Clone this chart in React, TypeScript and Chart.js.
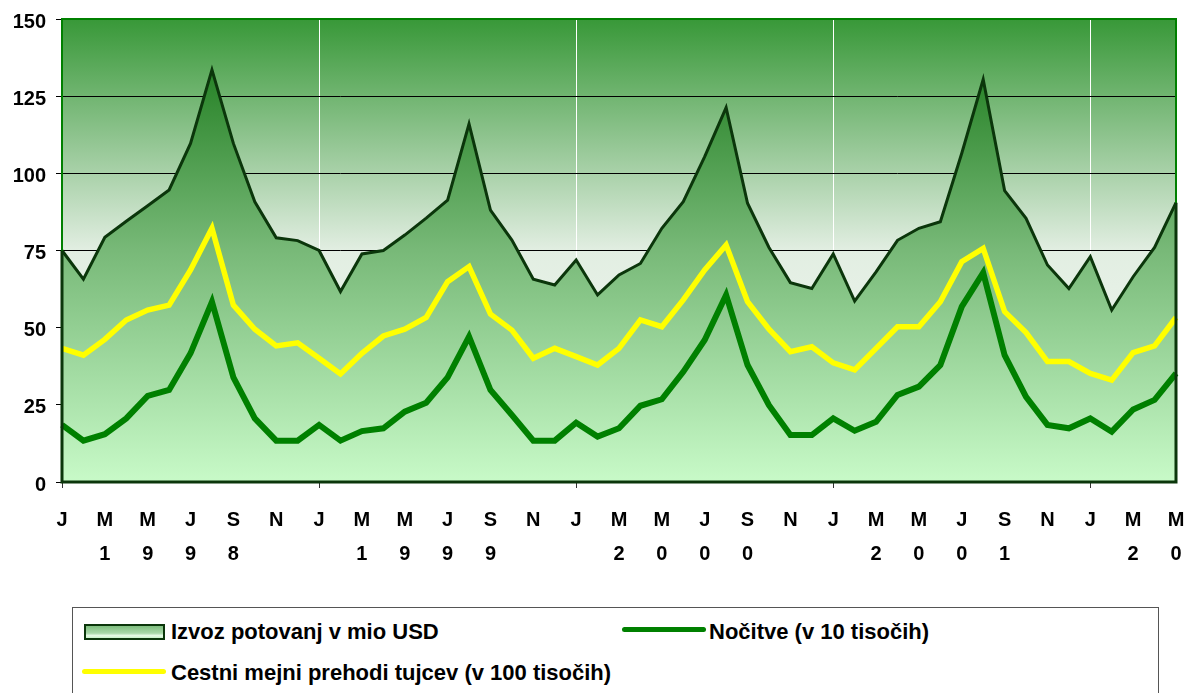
import React, { useEffect, useRef } from 'react';
import { Chart, registerables } from 'chart.js';

Chart.register(...registerables);

// Monthly categories, Jan 1998 – May 2002
const monthLabels = [
  'J', 'F', 'M', 'A', 'M', 'J', 'J', 'A', 'S', 'O', 'N', 'D',
  'J', 'F', 'M', 'A', 'M', 'J', 'J', 'A', 'S', 'O', 'N', 'D',
  'J', 'F', 'M', 'A', 'M', 'J', 'J', 'A', 'S', 'O', 'N', 'D',
  'J', 'F', 'M', 'A', 'M', 'J', 'J', 'A', 'S', 'O', 'N', 'D',
  'J', 'F', 'M', 'A', 'M',
];
const yearLabels = [
  '', '', '1', '', '9', '', '9', '', '8', '', '', '',
  '', '', '1', '', '9', '', '9', '', '9', '', '', '',
  '', '', '2', '', '0', '', '0', '', '0', '', '', '',
  '', '', '2', '', '0', '', '0', '', '1', '', '', '',
  '', '', '2', '', '0',
];

const izvoz = [
  75, 65.7, 79.3, 84.5, 89.5, 94.6, 109.7, 133.5, 109.7, 90.8, 79.1, 78.2,
  75, 61.7, 73.9, 75, 80, 85.5, 91.3, 116, 88.1, 78.4, 65.7, 63.8,
  71.9, 60.6, 67.1, 70.8, 82.2, 90.8, 105.4, 121.3, 90.3, 76, 64.6, 62.7,
  73.9, 58.6, 68.1, 78.3, 82.2, 84.3, 106.5, 130.4, 94.4, 85.4, 70.3, 62.7,
  73, 55.7, 66.5, 76, 90.5,
];
const nocitve = [
  18.5, 13.4, 15.5, 20.6, 27.9, 29.8, 41.7, 58.4, 33.9, 20.6, 13.4, 13.4,
  18.5, 13.4, 16.5, 17.4, 22.8, 25.7, 33.9, 47.1, 29.8, 21.7, 13.4, 13.4,
  19.2, 14.7, 17.4, 24.7, 26.8, 35.7, 46, 60.6, 37.9, 24.9, 15.2, 15.2,
  20.6, 16.6, 19.5, 28.2, 30.9, 37.9, 56.8, 67.8, 41.1, 27.6, 18.5, 17.4,
  20.6, 16.3, 23.5, 26.6, 35.2,
];
const cestni = [
  43.3, 41.1, 46.2, 52.5, 55.7, 57.3, 68.7, 82.2, 57.3, 49.5, 44.1, 45.1,
  40.1, 35, 41.7, 47.3, 49.5, 53.3, 64.9, 69.8, 54.4, 49.2, 40.1, 43.3,
  40.6, 37.9, 43.3, 52.5, 50.3, 59, 68.7, 76.8, 58.4, 49.5, 42.2, 43.8,
  38.6, 36.3, 43.3, 50.3, 50.3, 58.4, 71.4, 75.7, 55.2, 48.4, 39, 39,
  35.2, 33, 41.9, 44.1, 53.3,
];

const seriesNames = [
  'Izvoz potovanj v mio USD',
  'Nočitve (v 10 tisočih)',
  'Cestni mejni prehodi tujcev (v 100 tisočih)',
];

const FONT = "'Liberation Sans', Arial, Helvetica, sans-serif";
const AREA_BORDER = '#0b360b';

const plotDecor = {
  id: 'plotDecor',
  beforeDraw(chart: any) {
    const { ctx, chartArea: a } = chart;
    if (!a) return;
    const g = ctx.createLinearGradient(0, a.top, 0, a.bottom);
    g.addColorStop(0, '#389838');
    g.addColorStop(0.5, '#e2eee2');
    g.addColorStop(1, '#f6fbf6');
    ctx.save();
    ctx.fillStyle = g;
    ctx.fillRect(a.left, a.top, a.right - a.left, a.bottom - a.top);
    ctx.restore();
  },
  afterDatasetsDraw(chart: any) {
    const { ctx, chartArea: a } = chart;
    if (!a) return;
    ctx.save();
    ctx.strokeStyle = '#008000';
    ctx.lineWidth = 2;
    ctx.beginPath();
    ctx.moveTo(a.left, a.bottom);
    ctx.lineTo(a.left, a.top);
    ctx.lineTo(a.right, a.top);
    ctx.lineTo(a.right, a.bottom);
    ctx.stroke();
    const meta = chart.getDatasetMeta(0);
    const pts = meta.data;
    if (pts && pts.length) {
      const first = pts[0];
      const last = pts[pts.length - 1];
      const base = chart.scales.y.getPixelForValue(0);
      ctx.strokeStyle = AREA_BORDER;
      ctx.lineWidth = 3;
      ctx.lineJoin = 'miter';
      ctx.beginPath();
      ctx.moveTo(first.x, first.y);
      ctx.lineTo(first.x, base);
      ctx.lineTo(last.x, base);
      ctx.lineTo(last.x, last.y);
      ctx.stroke();
    }
    ctx.restore();
  },
};

function ChartCanvas() {
  const ref = useRef<HTMLCanvasElement | null>(null);
  useEffect(() => {
    if (!ref.current) return;
    const chart = new Chart(ref.current, {
      type: 'line',
      data: {
        labels: monthLabels,
        datasets: [
          {
            label: seriesNames[0],
            data: izvoz,
            fill: 'origin',
            borderColor: AREA_BORDER,
            borderWidth: 3,
            pointRadius: 0,
            tension: 0,
            order: 3,
            backgroundColor: (c: any) => {
              const ch = c.chart;
              const a = ch.chartArea;
              if (!a) return 'rgba(0,0,0,0)';
              const g = ch.ctx.createLinearGradient(0, a.top, 0, a.bottom);
              g.addColorStop(0, '#107310');
              g.addColorStop(0.5, '#78b978');
              g.addColorStop(1, '#c8fac8');
              return g;
            },
          },
          {
            label: seriesNames[1],
            data: nocitve,
            fill: false,
            borderColor: '#008000',
            borderWidth: 6,
            pointRadius: 0,
            tension: 0,
            order: 1,
          },
          {
            label: seriesNames[2],
            data: cestni,
            fill: false,
            borderColor: '#ffff00',
            borderWidth: 5.5,
            pointRadius: 0,
            tension: 0,
            order: 2,
          },
        ],
      },
      options: {
        animation: false,
        responsive: false,
        layout: { padding: { left: 0, right: 12, top: 19, bottom: 0 } },
        plugins: {
          legend: { display: false },
          tooltip: { enabled: false },
        },
        scales: {
          x: {
            type: 'category',
            offset: false,
            afterFit: (s: any) => { s.height = 118; s.paddingLeft = 0; s.paddingRight = 0; },
            border: { display: false },
            grid: {
              drawOnChartArea: true,
              drawTicks: true,
              tickLength: 6,
              lineWidth: 1,
              color: (c: any) => (c.index % 12 === 0 && c.index > 0 ? '#ffffff' : 'rgba(0,0,0,0)'),
              tickColor: (c: any) => (c.index % 12 === 0 ? '#333333' : 'rgba(0,0,0,0)'),
            },
            ticks: {
              autoSkip: false,
              maxRotation: 0,
              minRotation: 0,
              padding: 15,
              color: '#000',
              font: { family: FONT, size: 20, weight: 'bold', lineHeight: 1.72 },
              callback: (_v: any, i: number) => (i % 2 === 0 ? [monthLabels[i], yearLabels[i]] : ''),
            },
          },
          y: {
            min: 0,
            max: 150,
            afterFit: (s: any) => { s.width = 62; s.paddingTop = 0; s.paddingBottom = 0; },
            border: { display: false },
            grid: {
              drawTicks: true,
              tickLength: 6,
              lineWidth: 1,
              color: (c: any) => {
                const v = c.tick ? c.tick.value : 0;
                return v > 0 && v < 150 ? '#000000' : 'rgba(0,0,0,0)';
              },
              tickColor: '#000000',
            },
            ticks: {
              stepSize: 25,
              padding: 10,
              labelOffset: 3,
              color: '#000',
              font: { family: FONT, size: 20, weight: 'bold' },
            },
          },
        },
      },
      plugins: [plotDecor],
    });
    return () => chart.destroy();
  }, []);
  return <canvas ref={ref} width={1188} height={600} style={{ position: 'absolute', left: 0, top: 0, width: 1188, height: 600 }} />;
}

const textStyle: React.CSSProperties = {
  position: 'absolute',
  fontFamily: FONT,
  fontWeight: 'bold',
  fontSize: 22,
  lineHeight: '24px',
  color: '#000',
  whiteSpace: 'nowrap',
};

export default function App() {
  return (
    <div style={{ position: 'fixed', left: 0, top: 0, width: 1188, height: 693, overflow: 'hidden', background: '#fff' }}>
      <ChartCanvas />
      <div style={{ position: 'absolute', left: 72, top: 607, width: 1085, height: 140, border: '1px solid #555', background: '#fff' }} />
      <div style={{ position: 'absolute', left: 84, top: 624, width: 77, height: 12, border: `2px solid ${AREA_BORDER}`, background: 'linear-gradient(to bottom, #7fbf7f, #a8d8a8 60%, #e6fbe6 80%, #c8f2c8)' }} />
      <div style={{ ...textStyle, left: 171, top: 620 }}>{seriesNames[0]}</div>
      <div style={{ position: 'absolute', left: 622, top: 627, width: 84, height: 5, background: '#008000', borderRadius: 3 }} />
      <div style={{ ...textStyle, left: 709, top: 620 }}>{seriesNames[1]}</div>
      <div style={{ position: 'absolute', left: 82, top: 669, width: 84, height: 5, background: '#ffff00', borderRadius: 3 }} />
      <div style={{ ...textStyle, left: 171, top: 661 }}>{seriesNames[2]}</div>
    </div>
  );
}
